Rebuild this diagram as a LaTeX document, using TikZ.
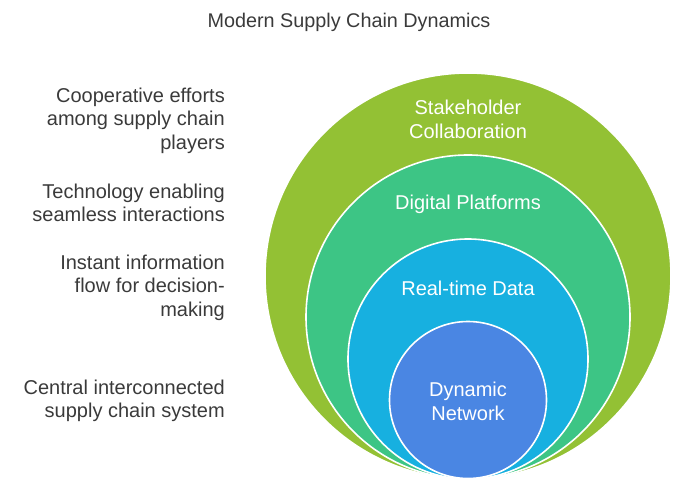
\documentclass[tikz,border=0pt]{standalone}
\usepackage{fontspec}
\setmainfont{Liberation Sans}
\definecolor{cgreen}{HTML}{93C134}
\definecolor{cteal}{HTML}{3DC585}
\definecolor{ccyan}{HTML}{17B0E0}
\definecolor{cblue}{HTML}{4A86E3}
\definecolor{ctext}{HTML}{3A3A3A}
\begin{document}
\begin{tikzpicture}[x=1pt,y=-1pt,
  ring/.style={circle,draw=white,line width=1.6pt,inner sep=0pt},
  inlabel/.style={text=white,font=\fontsize{20}{23.5}\selectfont,align=center,inner sep=0pt},
  sidelabel/.style={text=ctext,font=\fontsize{20}{23.5}\selectfont,align=right,anchor=east,inner sep=0pt},
  titlelabel/.style={text=ctext,font=\fontsize{19.8}{22}\selectfont,inner sep=0pt}]
\useasboundingbox (0,0) rectangle (685,494);
\node[ring,fill=cgreen,minimum size=406pt] (c1) at (468,276) {};
\node[ring,fill=cteal,minimum size=324pt] (c2) at (468,317) {};
\node[ring,fill=ccyan,minimum size=240pt] (c3) at (468,359) {};
\node[ring,fill=cblue,minimum size=157pt] (c4) at (468,400) {};
\node[inlabel] (l1) at (468,119.5) {Stakeholder\\Collaboration};
\node[inlabel] (l2) at (468,204) {Digital Platforms};
\node[inlabel] (l3) at (468,288) {Real-time Data};
\node[inlabel] (l4) at (468,401.5) {Dynamic\\Network};
\node[sidelabel] (s1) at (225,120.5) {Cooperative efforts\\among supply chain\\players};
\node[sidelabel] (s2) at (225,203) {Technology enabling\\seamless interactions};
\node[sidelabel] (s3) at (225,287.5) {Instant information\\flow for decision-\\making};
\node[sidelabel] (s4) at (225,401) {Central interconnected\\supply chain system};
\node[titlelabel] (t) at (349,22) {Modern Supply Chain Dynamics};
\end{tikzpicture}
\end{document}
